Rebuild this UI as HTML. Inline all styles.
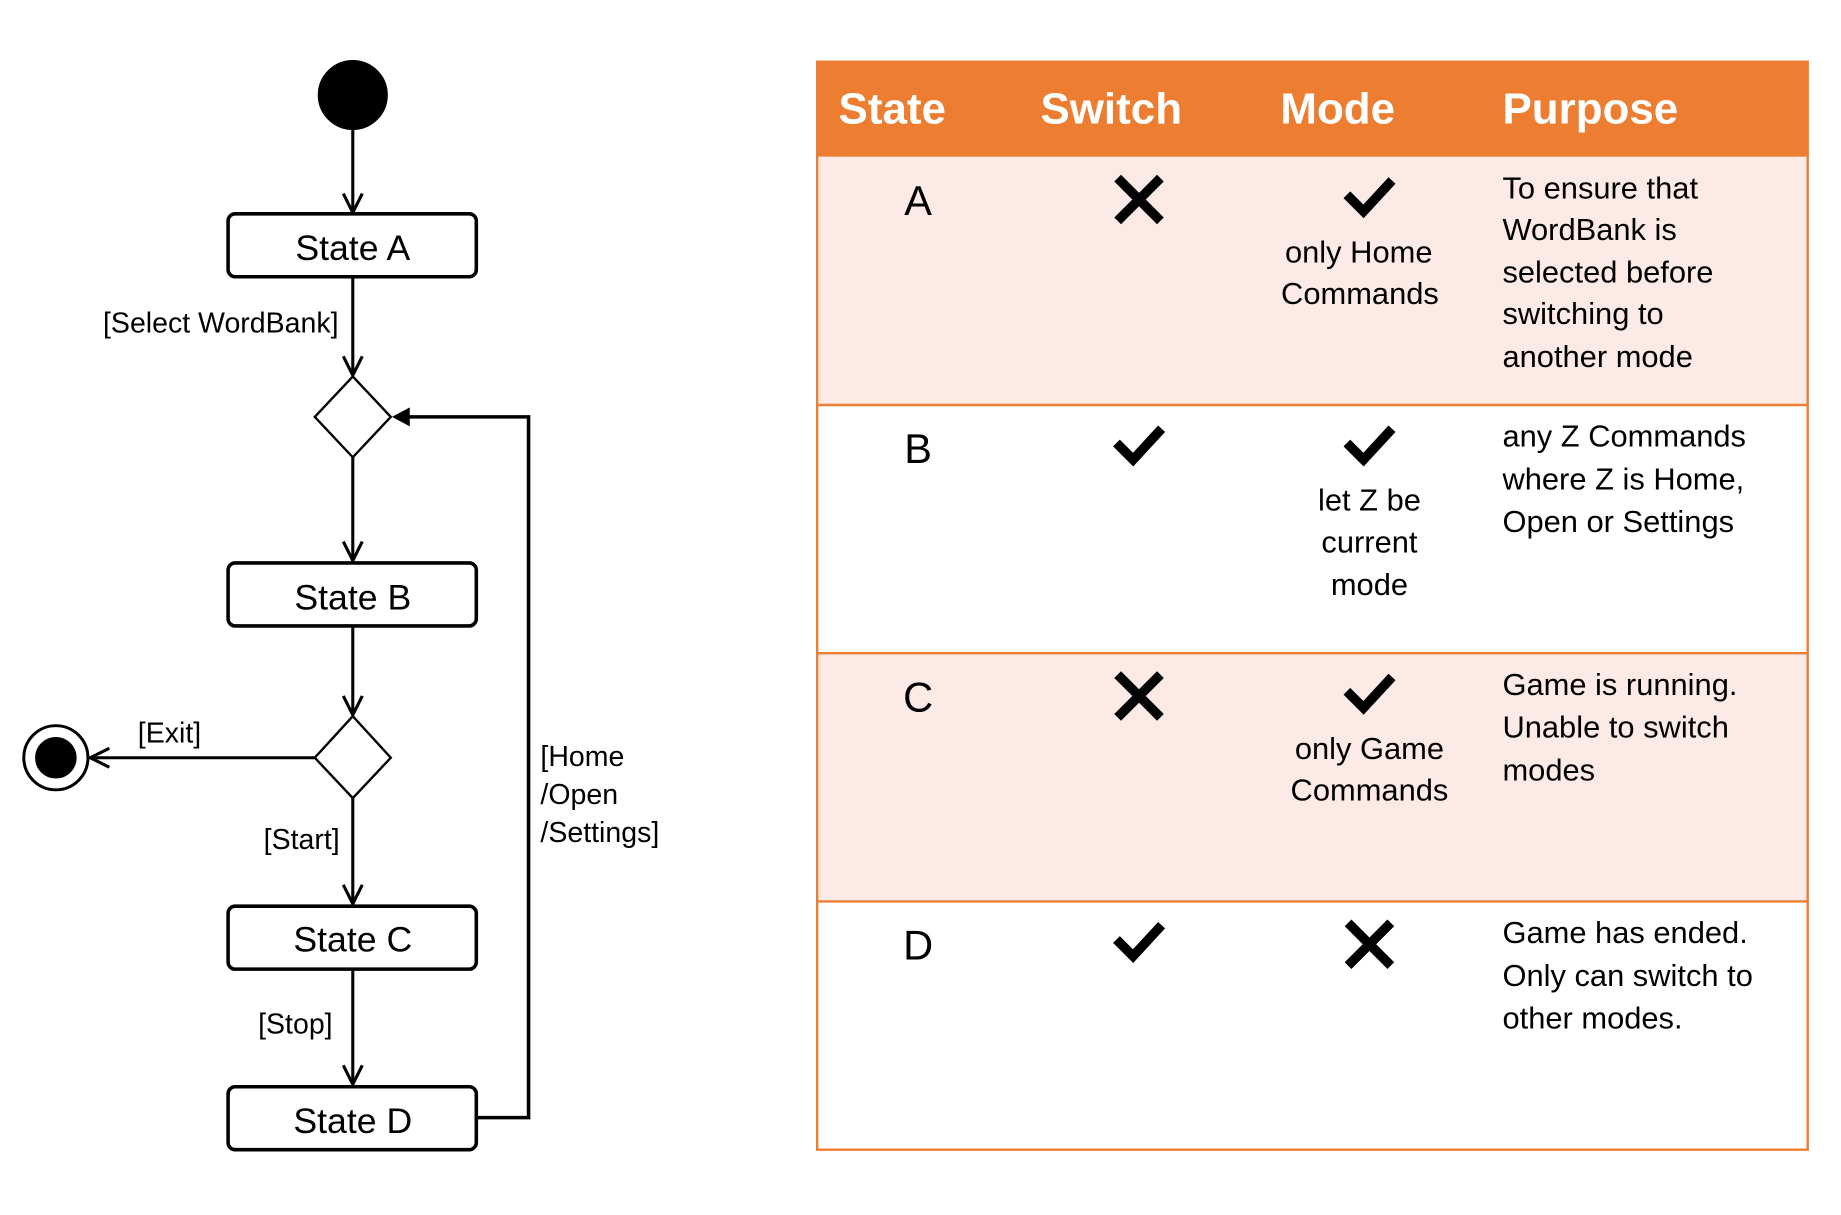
<!DOCTYPE html>
<html><head><meta charset="utf-8"><style>html,body{margin:0;padding:0;background:#fff;}svg{display:block}</style></head>
<body>
<svg width="1841" height="1215" viewBox="0 0 1550 1023" xmlns="http://www.w3.org/2000/svg" font-family="Liberation Sans, sans-serif">
<defs>
<marker id="open" viewBox="0 0 20 20" refX="18" refY="10" markerWidth="20" markerHeight="20" markerUnits="userSpaceOnUse" orient="auto">
<path d="M2,2 L18,10 L2,18" fill="none" stroke="#000" stroke-width="2.6"/>
</marker>
</defs>
<g stroke="#000" fill="none">
<circle cx="297" cy="80" r="29" fill="#000"/>
<line x1="297" y1="109" x2="297" y2="179" stroke-width="2.6" marker-end="url(#open)"/>
<rect x="192" y="180" width="209" height="53" rx="6" stroke-width="3"/>
<line x1="297" y1="233" x2="297" y2="316" stroke-width="2.6" marker-end="url(#open)"/>
<polygon points="297,317 329,351 297,385 265,351" stroke-width="2"/>
<line x1="297" y1="385" x2="297" y2="472" stroke-width="2.6" marker-end="url(#open)"/>
<rect x="192" y="474" width="209" height="53" rx="6" stroke-width="3"/>
<line x1="297" y1="527" x2="297" y2="602" stroke-width="2.6" marker-end="url(#open)"/>
<polygon points="297,603 329,638 297,672 265,638" stroke-width="2"/>
<line x1="265" y1="638" x2="76" y2="638" stroke-width="2.6" marker-end="url(#open)"/>
<circle cx="47" cy="638" r="27" stroke-width="2.5"/>
<circle cx="47" cy="638" r="17" fill="#000"/>
<line x1="297" y1="672" x2="297" y2="761" stroke-width="2.6" marker-end="url(#open)"/>
<rect x="192" y="763" width="209" height="53" rx="6" stroke-width="3"/>
<line x1="297" y1="816" x2="297" y2="913" stroke-width="2.6" marker-end="url(#open)"/>
<rect x="192" y="915" width="209" height="53" rx="6" stroke-width="3"/>
<polyline points="401,941 445,941 445,351 343,351" stroke-width="3"/>
<polygon points="330,351 345,343 345,359" fill="#000" stroke="none"/>
</g>
<g font-size="30" text-anchor="middle" fill="#000">
<text x="297" y="219">State A</text>
<text x="297" y="513">State B</text>
<text x="297" y="801">State C</text>
<text x="297" y="954">State D</text>
</g>
<g font-size="24" fill="#000">
<text x="285" y="280" text-anchor="end">[Select WordBank]</text>
<text x="116" y="625">[Exit]</text>
<text x="286" y="715" text-anchor="end">[Start]</text>
<text x="280" y="870" text-anchor="end">[Stop]</text>
<text x="455" y="645">[Home</text>
<text x="455" y="677">/Open</text>
<text x="455" y="709">/Settings]</text>
</g>
<rect x="688" y="52" width="834" height="80" fill="#ED7D31"/>
<rect x="689" y="132" width="832" height="209" fill="#FBEAE6"/>
<rect x="689" y="550" width="832" height="209" fill="#FBEAE6"/>
<g stroke="#ED7D31" stroke-width="2" fill="none">
<rect x="688" y="52" width="834" height="916"/>
<line x1="688" y1="341" x2="1522" y2="341"/>
<line x1="688" y1="550" x2="1522" y2="550"/>
<line x1="688" y1="759" x2="1522" y2="759"/>
</g>
<g font-size="37" font-weight="bold" fill="#fff">
<text x="706" y="104">State</text>
<text x="876" y="104">Switch</text>
<text x="1078" y="104">Mode</text>
<text x="1265" y="104">Purpose</text>
</g>
<g font-size="35" fill="#000" text-anchor="middle">
<text x="773" y="181">A</text>
<text x="773" y="390">B</text>
<text x="773" y="599">C</text>
<text x="773" y="808">D</text>
</g>
<g stroke="#000" stroke-width="8" fill="none">
<path d="M941,150 L977,186 M977,150 L941,186"/>
<path d="M941,568 L977,604 M977,568 L941,604"/>
<path d="M1135,777 L1171,813 M1171,777 L1135,813"/>
<path d="M1134,164 L1148,178 L1172,152"/>
<path d="M1134,373 L1148,387 L1172,361"/>
<path d="M1134,582 L1148,596 L1172,570"/>
<path d="M940,373 L954,387 L978,361"/>
<path d="M940,791 L954,805 L978,779"/>
</g>
<g font-size="26" fill="#000" text-anchor="middle">
<text x="1144" y="221">only Home</text>
<text x="1145" y="256">Commands</text>
<text x="1153" y="430">let Z be</text>
<text x="1153" y="465">current</text>
<text x="1153" y="501">mode</text>
<text x="1153" y="639">only Game</text>
<text x="1153" y="674">Commands</text>
</g>
<g font-size="26" fill="#000">
<text x="1265" y="167">To ensure that</text>
<text x="1265" y="202">WordBank is</text>
<text x="1265" y="238">selected before</text>
<text x="1265" y="273">switching to</text>
<text x="1265" y="309">another mode</text>
<text x="1265" y="376">any Z Commands</text>
<text x="1265" y="412">where Z is Home,</text>
<text x="1265" y="448">Open or Settings</text>
<text x="1265" y="585">Game is running.</text>
<text x="1265" y="621">Unable to switch</text>
<text x="1265" y="657">modes</text>
<text x="1265" y="794">Game has ended.</text>
<text x="1265" y="830">Only can switch to</text>
<text x="1265" y="866">other modes.</text>
</g>
</svg>
</body></html>
